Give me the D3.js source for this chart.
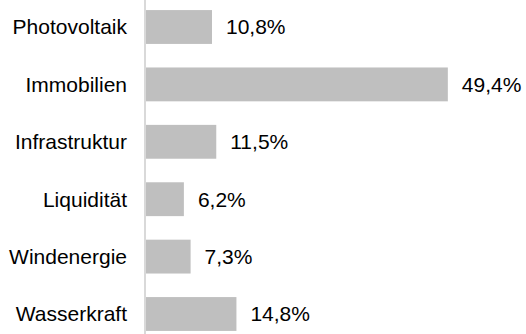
<!DOCTYPE html>
<html><head><meta charset="utf-8">
<script src="https://cdn.jsdelivr.net/npm/d3@7"></script>
<style>body{margin:0;background:#fff}svg{display:block}</style>
</head><body>
<svg id="c" width="526" height="334"></svg>
<script>
const categories = ["Photovoltaik","Immobilien","Infrastruktur","Liquidität","Windenergie","Wasserkraft"];
const values = [10.8, 49.4, 11.5, 6.2, 7.3, 14.8];
const valueLabels = ["10,8%","49,4%","11,5%","6,2%","7,3%","14,8%"];

const svg = d3.select("#c");
const x0 = 146;
const x = d3.scaleLinear().domain([0, 50]).range([x0, x0 + 50*6.11]);
const y = d3.scaleBand().domain(categories).range([-1.7, 342.7]).paddingInner(0.41).paddingOuter(0.205);
const font = "'Liberation Sans', Arial, sans-serif";

svg.selectAll("rect.bar").data(categories).join("rect")
  .attr("class","bar")
  .attr("x", x(0))
  .attr("y", d => y(d))
  .attr("width", (d,i) => x(values[i]) - x(0))
  .attr("height", y.bandwidth())
  .attr("fill", "#bfbfbf");

svg.append("line").attr("x1", 145).attr("x2", 145).attr("y1", 0).attr("y2", 334)
  .attr("stroke", "#d9d9d9").attr("stroke-width", 2);

svg.selectAll("text.cat").data(categories).join("text")
  .attr("class","cat")
  .attr("x", 127)
  .attr("y", d => y(d) + y.bandwidth()/2)
  .attr("dy", "0.35em")
  .attr("text-anchor", "end")
  .attr("font-family", font).attr("font-size", 21).attr("fill", "#000")
  .text(d => d);

svg.selectAll("text.val").data(categories).join("text")
  .attr("class","val")
  .attr("x", (d,i) => x(values[i]) + 14)
  .attr("y", d => y(d) + y.bandwidth()/2)
  .attr("dy", "0.35em")
  .attr("font-family", font).attr("font-size", 21).attr("fill", "#000")
  .text((d,i) => valueLabels[i]);
</script>
</body></html>
